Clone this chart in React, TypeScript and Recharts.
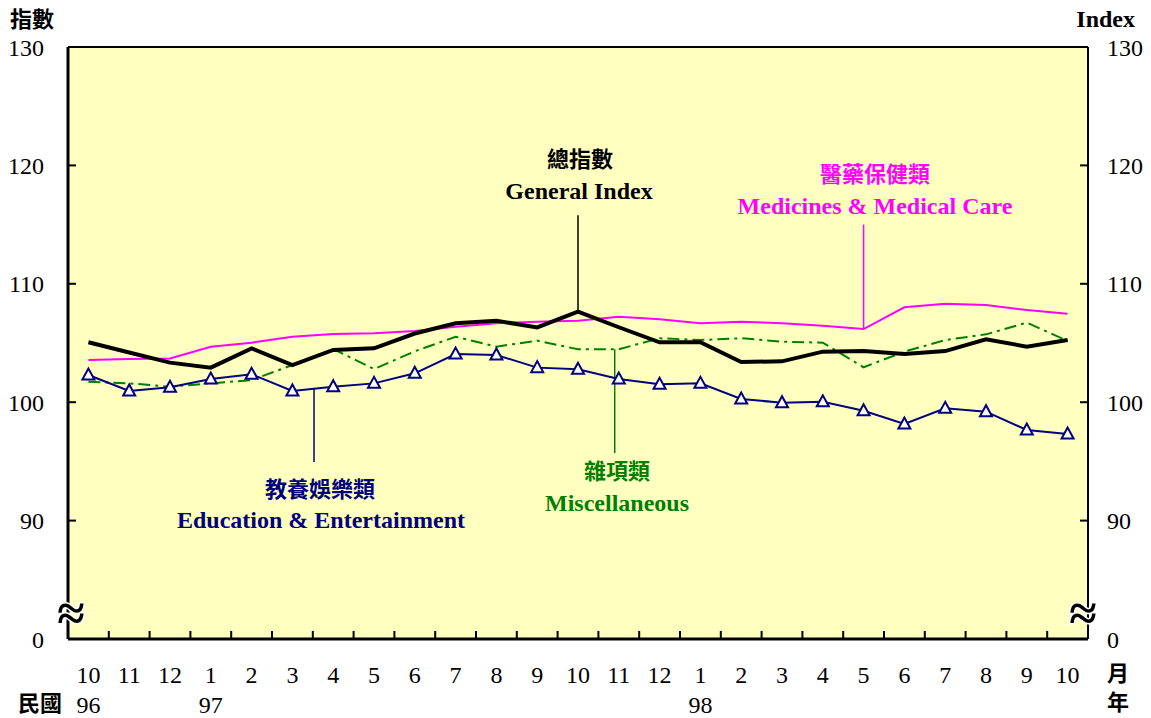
import React from 'react';
import { LineChart, Line, XAxis, YAxis, ReferenceLine, CartesianGrid } from 'recharts';

const SERIF = "'Liberation Serif', 'Times New Roman', serif";
const CJK = "'Noto Sans CJK TC', 'Noto Sans CJK SC', sans-serif";

const months = ['10', '11', '12', '1', '2', '3', '4', '5', '6', '7', '8', '9', '10', '11', '12', '1', '2', '3', '4', '5', '6', '7', '8', '9', '10'];
const years: Record<number, string> = { 0: '96', 3: '97', 15: '98' };

const generalIndex = [105.06, 104.2, 103.34, 102.92, 104.55, 103.14, 104.41, 104.55, 105.8, 106.66, 106.88, 106.32, 107.64, 106.33, 105.06, 105.06, 103.4, 103.45, 104.27, 104.32, 104.07, 104.32, 105.31, 104.69, 105.25];
const medicines = [103.56, 103.65, 103.7, 104.69, 105.03, 105.53, 105.76, 105.82, 106.01, 106.38, 106.66, 106.8, 106.88, 107.22, 107.0, 106.66, 106.8, 106.66, 106.46, 106.18, 108.02, 108.32, 108.21, 107.79, 107.47];
const miscellaneous = [101.73, 101.59, 101.31, 101.59, 101.87, 103.14, 104.49, 102.8, 104.3, 105.53, 104.69, 105.2, 104.47, 104.47, 105.4, 105.25, 105.4, 105.11, 105.03, 102.95, 104.27, 105.25, 105.73, 106.72, 105.17];
const education = [102.3, 100.95, 101.26, 101.96, 102.36, 100.95, 101.31, 101.59, 102.44, 104.07, 103.99, 102.92, 102.78, 101.96, 101.51, 101.59, 100.27, 99.96, 100.04, 99.28, 98.16, 99.48, 99.2, 97.65, 97.31];

const yTicks = [80, 90, 100, 110, 120, 130];
const yTickLabels: Record<number, string> = { 80: '0', 90: '90', 100: '100', 110: '110', 120: '120', 130: '130' };

const data = months.map((m, i) => ({
  idx: i,
  month: m,
  general: generalIndex[i],
  medicines: medicines[i],
  misc: miscellaneous[i],
  education: education[i],
}));
const xTicks = months.map((_, i) => i);
const boundaries = months.slice(1).map((_, i) => i + 0.5);

const MonthTick = (props: any) => {
  const { x, y, payload } = props;
  const i = payload.value as number;
  return (
    <g>
      <text x={x} y={y + 44} textAnchor="middle" fontFamily={SERIF} fontSize={24} fill="#000">
        {months[i]}
      </text>
      {years[i] ? (
        <text x={x} y={y + 74} textAnchor="middle" fontFamily={SERIF} fontSize={24} fill="#000">
          {years[i]}
        </text>
      ) : null}
    </g>
  );
};

const Triangle = (props: any) => {
  const { cx, cy } = props;
  if (cx == null || cy == null) return null;
  return (
    <polygon
      points={`${cx},${cy - 6.5} ${cx - 6},${cy + 4.5} ${cx + 6},${cy + 4.5}`}
      fill="#ffffff"
      stroke="#000080"
      strokeWidth={2}
    />
  );
};

const tickStyle = { fontSize: 24, fill: '#000', fontFamily: SERIF };

export default function App() {
  return (
    <div style={{ position: 'absolute', left: 0, top: 0, width: 1151, height: 718, background: '#fff' }}>
      <LineChart width={1151} height={718} data={data} margin={{ top: 47, right: 8, bottom: 19, left: 8 }}>
        <CartesianGrid fill="#FFFFC0" stroke="none" horizontal={false} vertical={false} yAxisId="left" />
        <XAxis
          dataKey="idx"
          type="number"
          domain={[-0.5, 24.5]}
          ticks={xTicks}
          interval={0}
          tick={<MonthTick />}
          tickLine={false}
          tickSize={0}
          tickMargin={0}
          height={60}
          axisLine={{ stroke: '#000', strokeWidth: 3 }}
        />
        <YAxis
          yAxisId="left"
          domain={[80, 130]}
          ticks={yTicks}
          interval={0}
          width={60}
          tickSize={-8}
          tickMargin={32}
          tickFormatter={(v: number) => yTickLabels[v]}
          tick={tickStyle}
          tickLine={{ stroke: '#000', strokeWidth: 2 }}
          axisLine={{ stroke: '#000', strokeWidth: 3 }}
        />
        <YAxis
          yAxisId="right"
          orientation="right"
          domain={[80, 130]}
          ticks={yTicks}
          interval={0}
          width={55}
          tickSize={-8}
          tickMargin={27}
          tickFormatter={(v: number) => yTickLabels[v]}
          tick={{ ...tickStyle, textAnchor: 'start' }}
          tickLine={{ stroke: '#000', strokeWidth: 2 }}
          axisLine={{ stroke: '#000', strokeWidth: 2 }}
        />
        <ReferenceLine yAxisId="left" y={130} stroke="#000" strokeWidth={2} />
        {boundaries.map((b) => (
          <ReferenceLine
            key={b}
            yAxisId="left"
            segment={[{ x: b, y: 80 }, { x: b, y: 80.68 }]}
            stroke="#000"
            strokeWidth={2}
          />
        ))}
        <ReferenceLine yAxisId="left" segment={[{ x: 12, y: 107.64 }, { x: 12, y: 115.8 }]} stroke="#000" strokeWidth={1.5} />
        <ReferenceLine yAxisId="left" segment={[{ x: 19, y: 106.18 }, { x: 19, y: 115.0 }]} stroke="#FF00FF" strokeWidth={1.5} />
        <ReferenceLine yAxisId="left" segment={[{ x: 12.9, y: 104.47 }, { x: 12.9, y: 95.7 }]} stroke="#008000" strokeWidth={1.5} />
        <ReferenceLine yAxisId="left" segment={[{ x: 5.53, y: 101.14 }, { x: 5.53, y: 94.95 }]} stroke="#000080" strokeWidth={1.5} />
        <Line yAxisId="right" dataKey="general" stroke="none" strokeWidth={0} dot={false} activeDot={false} legendType="none" isAnimationActive={false} />
        <Line yAxisId="left" dataKey="medicines" stroke="#FF00FF" strokeWidth={2} dot={false} isAnimationActive={false} />
        <Line yAxisId="left" dataKey="misc" stroke="#008000" strokeWidth={2} strokeDasharray="12 5 3 5" dot={false} isAnimationActive={false} />
        <Line yAxisId="left" dataKey="general" stroke="#000" strokeWidth={4} dot={false} isAnimationActive={false} />
        <Line yAxisId="left" dataKey="education" stroke="#000080" strokeWidth={2} dot={<Triangle />} isAnimationActive={false} />
      </LineChart>
      <svg width={1151} height={718} style={{ position: 'absolute', left: 0, top: 0, pointerEvents: 'none' }}>
        <text x={10} y={27} fontFamily={CJK} fontWeight={700} fontSize={22} fill="#000">指數</text>
        <text x={1135} y={27} textAnchor="end" fontFamily={SERIF} fontWeight={700} fontSize={24} fill="#000">Index</text>
        <text x={18} y={711} fontFamily={CJK} fontWeight={700} fontSize={22} fill="#000">民國</text>
        <text x={1118} y={681} textAnchor="middle" fontFamily={CJK} fontWeight={700} fontSize={22} fill="#000">月</text>
        <text x={1118} y={710} textAnchor="middle" fontFamily={CJK} fontWeight={700} fontSize={22} fill="#000">年</text>
        <text x={71} y={630} textAnchor="middle" fontFamily={SERIF} fontWeight={700} fontSize={50} fill="#000" stroke="#fff" strokeWidth={3} paintOrder="stroke">≈</text>
        <text x={1083} y={630} textAnchor="middle" fontFamily={SERIF} fontWeight={700} fontSize={50} fill="#000" stroke="#fff" strokeWidth={3} paintOrder="stroke">≈</text>

        <text x={580} y={167} textAnchor="middle" fontFamily={CJK} fontWeight={700} fontSize={22} fill="#000">總指數</text>
        <text x={579} y={199} textAnchor="middle" fontFamily={SERIF} fontWeight={700} fontSize={24} fill="#000">General Index</text>

        <text x={875} y={182} textAnchor="middle" fontFamily={CJK} fontWeight={700} fontSize={22} fill="#FF00FF">醫藥保健類</text>
        <text x={875} y={214} textAnchor="middle" fontFamily={SERIF} fontWeight={700} fontSize={24} fill="#FF00FF">Medicines &amp; Medical Care</text>

        <text x={617} y={479} textAnchor="middle" fontFamily={CJK} fontWeight={700} fontSize={22} fill="#008000">雜項類</text>
        <text x={617} y={511} textAnchor="middle" fontFamily={SERIF} fontWeight={700} fontSize={24} fill="#008000">Miscellaneous</text>

        <text x={320} y={497} textAnchor="middle" fontFamily={CJK} fontWeight={700} fontSize={22} fill="#000080">教養娛樂類</text>
        <text x={321} y={528} textAnchor="middle" fontFamily={SERIF} fontWeight={700} fontSize={24} fill="#000080">Education &amp; Entertainment</text>
      </svg>
    </div>
  );
}
